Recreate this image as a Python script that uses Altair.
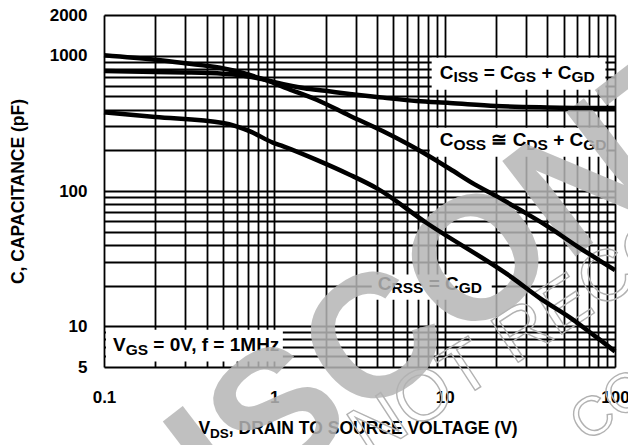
import altair as alt
import numpy as np
import pandas as pd

# ---- capacitance vs drain-source voltage (V in volts, C in pF) ----
ciss_v = [0.1, 0.2, 0.3, 0.5, 0.65, 0.8, 0.94, 1.13, 1.5, 2.0, 2.77, 4.35, 6.82, 10.7, 20, 40, 100]
ciss_c = [770, 758, 752, 735, 715, 680, 650, 615, 575, 550, 522, 490, 462, 447, 425, 415, 410]

coss_v = [0.1, 0.2, 0.3, 0.48, 0.63, 0.8, 0.94, 1.2, 1.77, 2.77, 4.35, 6.82, 10.7, 15, 20, 27.5, 40, 60, 80, 100]
coss_c = [1010, 935, 880, 815, 755, 690, 646, 570, 473, 360, 276, 205, 146, 112, 92, 73, 55, 39, 31, 26]

crss_v = [0.1, 0.2, 0.5, 0.72, 0.98, 1.13, 1.77, 2.77, 3.98, 7.84, 25, 36, 56.6, 74, 81, 100]
crss_c = [381, 353, 318, 276, 228, 214, 170, 132, 105, 58, 22.8, 16.2, 11.2, 8.7, 8.0, 6.5]

# axis ranges, grid lines and labelled ticks
x_domain = [0.1, 100]
y_domain = [5, 2000]
x_grid = [round(m * 10.0 ** e, 6) for e in (-1, 0, 1) for m in range(1, 10)] + [100]
y_grid = [5, 6, 7, 8, 9] + [m * 10 for m in range(1, 10)] + [m * 100 for m in range(1, 10)] + [1000, 2000]
x_labels = ["0.1", "1", "10", "100"]
y_labels = ["5", "10", "100", "1000", "2000"]

# ---- layout ----
W, H = 511, 352
LEFT, TOP = 104, 15
FONT = "Liberation Sans"
MAIN, SUB = 19, 15.5        # in-plot label sizes
T_MAIN, T_SUB = 17.5, 13.5  # axis title sizes
PPD = W / np.log10(x_domain[1] / x_domain[0])  # pixels per decade on x

# bold advance widths (per 1000 em)
ADV = {" ": 278, ",": 278, ".": 278, "=": 584, "+": 584, "\u2245": 838, "(": 333, ")": 333,
       "0": 556, "1": 556, "A": 722, "C": 722, "D": 722, "E": 667, "G": 778, "H": 722,
       "I": 278, "L": 611, "M": 833, "N": 722, "O": 778, "R": 722, "S": 667, "T": 611,
       "U": 722, "V": 667, "f": 333, "z": 500}


def adv(s, size):
    return sum(ADV.get(ch, 600) for ch in s) * size / 1000.0


def runs(parts, main, sub):
    """Place text runs (normal / subscript) one after another; returns pixel offsets."""
    out, cur = [], 0.0
    for txt, kind in parts:
        size = main if kind == "main" else sub
        body = txt.strip(" ")
        cur += (len(txt) - len(txt.lstrip(" "))) * 278 * size / 1000.0
        out.append((cur, body, kind))
        cur += adv(body, size)
        cur += (len(txt) - len(txt.rstrip(" "))) * 278 * size / 1000.0
    return out, cur


def shift_x(v0, px):
    return v0 * 10 ** (px / PPD)


# curve labels: (runs, start voltage, baseline capacitance, box v, v2, c, c2)
labels = [
    ([("C", "main"), ("ISS", "sub"), (" = C", "main"), ("GS", "sub"), (" + C", "main"), ("GD", "sub")],
     9.35, 673, 8.39, 87.9, 561, 967),
    ([("C", "main"), ("OSS", "sub"), (" \u2245 C", "main"), ("DS", "sub"), (" + C", "main"), ("GD", "sub")],
     9.35, 214, 8.17, 89.0, 179, 294),
    ([("C", "main"), ("RSS", "sub"), (" = C", "main"), ("GD", "sub")],
     4.05, 18.66, 3.73, 18.9, 15.7, 24.1),
    ([("V", "main"), ("GS", "sub"), (" = 0V, f = 1MHz", "main")],
     0.1129, 6.53, 0.1027, 1.122, 5.48, 9.44),
]

seg_rows, box_rows = [], []
for parts, v0, c0, bv, bv2, bc, bc2 in labels:
    placed, _ = runs(parts, MAIN, SUB)
    for off, body, kind in placed:
        seg_rows.append({"v": shift_x(v0, off), "c": c0, "t": body, "kind": kind})
    box_rows.append({"v": bv, "v2": bv2, "c": bc, "c2": bc2})
segs = pd.DataFrame(seg_rows)
boxes = pd.DataFrame(box_rows)

# x-axis title with subscript, centred under the plot
title_parts = [("V", "main"), ("DS", "sub"), (", DRAIN TO SOURCE VOLTAGE (V)", "main")]
placed, tw = runs(title_parts, T_MAIN, T_SUB)
start_v = shift_x(x_domain[0], W / 2 - tw / 2)
title_df = pd.DataFrame([{"v": shift_x(start_v, off), "t": body, "kind": kind} for off, body, kind in placed])

curves = pd.concat([
    pd.DataFrame({"v": ciss_v, "c": ciss_c, "s": "Ciss"}),
    pd.DataFrame({"v": coss_v, "c": coss_c, "s": "Coss"}),
    pd.DataFrame({"v": crss_v, "c": crss_c, "s": "Crss"}),
])

xs = alt.Scale(type="log", domain=x_domain, nice=False)
ys = alt.Scale(type="log", domain=y_domain, nice=False)

x_axis = alt.Axis(
    values=x_grid, grid=True, gridColor="black", gridWidth=1.8, gridOpacity=1,
    ticks=False, tickSize=0, domain=False, title=None,
    labelExpr="indexof(%s, format(datum.value, '~g')) >= 0 ? format(datum.value, '~g') : ''" % str(x_labels),
    labelFont=FONT, labelFontSize=17, labelFontWeight="bold", labelColor="black",
    labelPadding=22, labelFlush=False, labelOverlap=False,
)
y_axis = alt.Axis(
    values=y_grid, grid=True, gridColor="black", gridWidth=1.8, gridOpacity=1,
    ticks=False, tickSize=0, domain=False,
    labelExpr="indexof(%s, format(datum.value, '~g')) >= 0 ? format(datum.value, '~g') : ''" % str(y_labels),
    labelFont=FONT, labelFontSize=17, labelFontWeight="bold", labelColor="black",
    labelPadding=17, labelFlush=False, labelOverlap=False, labelBaseline="middle",
    title="C, CAPACITANCE (pF)", titleFont=FONT, titleFontSize=T_MAIN, titleFontWeight="bold",
    titleColor="black", titleAngle=270, titleX=-86, titleY=H / 2, titleAlign="center",
    titleBaseline="middle",
)


def X(f="v"):
    return alt.X(f + ":Q", scale=xs, axis=x_axis)


def Y(f="c"):
    return alt.Y(f + ":Q", scale=ys, axis=y_axis)


box_layer = alt.Chart(boxes).mark_rect(fill="white").encode(
    x=X(), x2="v2:Q", y=Y(), y2="c2:Q")

main_txt = alt.Chart(segs).transform_filter(alt.datum.kind == "main").mark_text(
    font=FONT, fontSize=MAIN, fontWeight="bold", color="black", align="left", baseline="alphabetic"
).encode(x=X(), y=Y(), text="t:N")
sub_txt = alt.Chart(segs).transform_filter(alt.datum.kind == "sub").mark_text(
    font=FONT, fontSize=SUB, fontWeight="bold", color="black", align="left", baseline="alphabetic", dy=3.5
).encode(x=X(), y=Y(), text="t:N")

title_main = alt.Chart(title_df).transform_filter(alt.datum.kind == "main").mark_text(
    font=FONT, fontSize=T_MAIN, fontWeight="bold", color="black", align="left", baseline="alphabetic"
).encode(x=X(), y=alt.value(H + 67), text="t:N")
title_sub = alt.Chart(title_df).transform_filter(alt.datum.kind == "sub").mark_text(
    font=FONT, fontSize=T_SUB, fontWeight="bold", color="black", align="left", baseline="alphabetic", dy=3.5
).encode(x=X(), y=alt.value(H + 67), text="t:N")

# ---- "discontinued" stamp, set letter by letter along a slanted line ----
one = pd.DataFrame({"k": [0]})
REG = {" ": 278, "C": 722, "D": 722, "E": 667, "M": 833, "N": 722, "O": 778, "R": 722, "T": 611}


def stamp_letters(word, widths, anchor_idx, anchor_xy, slope_deg, size, **style):
    w = np.array([widths[ch] for ch in word]) / 1000.0
    centres = np.cumsum(w) - w / 2
    a = np.radians(slope_deg)
    out = []
    for ch, s in zip(word, centres):
        if ch == " ":
            continue
        off = (s - centres[anchor_idx]) * size
        px = anchor_xy[0] + off * np.cos(a) - LEFT
        py = anchor_xy[1] - off * np.sin(a) - TOP
        if px < -LEFT - size or px > W + 13 + size or py > H + 78 + size or py < -TOP - size:
            continue
        out.append(alt.Chart(one).mark_text(
            text=ch, fontSize=size, font=FONT, angle=360 - slope_deg,
            align="center", baseline="middle", **style,
        ).encode(x=alt.value(px), y=alt.value(py)))
    return out


solid = dict(fontWeight="bold", color="#b6b6b6", opacity=0.85)
hollow = dict(fontWeight="normal", fillOpacity=0, stroke="#b2b2b2", strokeWidth=1.4)

stamp = stamp_letters("DISCONTINUED", ADV, 4, (480, 263), 37.5, 175, **solid)
stamp += stamp_letters("NOT RECOMMENDED", REG, 2, (466, 370), 33, 72, **hollow)
stamp += stamp_letters("CO", REG, 0, (593, 418), 35, 55, **hollow)

lines = alt.Chart(curves).mark_line(color="black", strokeWidth=4.5, interpolate="monotone").encode(
    x=X(), y=Y(), detail="s:N")

chart = alt.layer(
    box_layer, main_txt, sub_txt, title_main, title_sub, *stamp, lines
).properties(
    width=W, height=H,
    autosize=alt.AutoSizeParams(type="none"),
    padding={"left": LEFT, "top": TOP, "right": 13, "bottom": 78},
).configure_view(stroke="black", strokeWidth=2.5).configure(background="white")

chart.save("out.html", embed_options={"renderer": "svg", "actions": False})
